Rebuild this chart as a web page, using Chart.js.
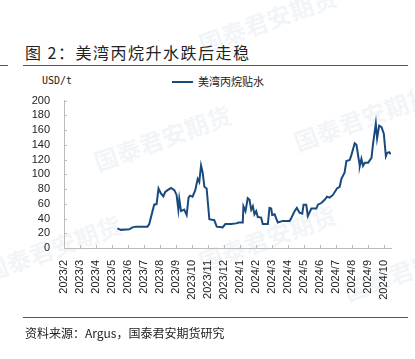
<!DOCTYPE html>
<html>
<head>
<meta charset="utf-8">
<script src="https://cdn.jsdelivr.net/npm/chart.js@4/dist/chart.umd.min.js"></script>
<style>
  body { margin: 0; width: 415px; height: 359px; background: #fff; overflow: hidden; position: relative; font-family: "Noto Sans CJK SC", sans-serif; }
  .title { position: absolute; left: 25px; top: 40px; font-size: 16px; color: #222; letter-spacing: 1.5px; white-space: nowrap; }
  .rule { position: absolute; height: 1px; background: #555; }
  .source { position: absolute; left: 25px; top: 324px; font-size: 12px; color: #222; white-space: nowrap; }
  .unit { position: absolute; left: 42px; top: 75px; font-size: 10px; color: #222; font-family: "DejaVu Sans Mono", monospace; }
  .legend { position: absolute; left: 172px; top: 73px; font-size: 11px; color: #222; white-space: nowrap; }
  .legend i { display: inline-block; width: 21px; height: 2px; background: #184a7e; vertical-align: middle; margin-right: 5px; margin-top: -2px; }
  .wm { position: absolute; color: rgba(190, 205, 222, 0.2); font-size: 24px; font-weight: bold; transform: rotate(-20deg); white-space: nowrap; }
  canvas { position: absolute; left: 0; top: 88px; }
</style>
</head>
<body>
<div class="wm" style="left:195px;top:2px;">国泰君安期货</div>
<div class="wm" style="left:90px;top:120px;">国泰君安期货</div>
<div class="wm" style="left:290px;top:100px;">国泰君安期货</div>
<div class="wm" style="left:195px;top:220px;">国泰君安期货</div>
<div class="wm" style="left:-20px;top:230px;">国泰君安期货</div>
<div class="wm" style="left:340px;top:250px;">国泰君安期货</div>
<div class="title">图 2：美湾丙烷升水跌后走稳</div>
<div class="rule" style="left:23px;top:65px;width:385px;"></div>
<div class="rule" style="left:0;top:65px;width:8px;"></div>
<div class="unit">USD/t</div>
<div class="legend"><i></i>美湾丙烷贴水</div>
<canvas id="c" width="415" height="230"></canvas>
<div class="rule" style="left:23px;top:317px;width:385px;"></div>
<div class="source">资料来源：Argus，国泰君安期货研究</div>
<script>
// x position = months since 2023/2
const monthLabels = ["2023/2","2023/3","2023/4","2023/5","2023/6","2023/7","2023/8","2023/9","2023/10","2023/11","2023/12",
  "2024/1","2024/2","2024/3","2024/4","2024/5","2024/6","2024/7","2024/8","2024/9","2024/10"];

const monthPos = [3.34,3.55,4.08,4.28,4.50,5.22,5.33,5.64,5.79,5.91,6.06,6.21,6.33,6.48,6.69,6.90,7.04,7.15,7.21,7.32,
  7.52,7.67,7.79,7.88,8.04,8.21,8.36,8.46,8.57,8.67,8.78,8.92,9.09,9.40,9.55,9.92,10.09,10.45,10.77,10.93,
  11.18,11.22,11.35,11.49,11.60,11.71,11.81,11.91,12.02,12.12,12.33,12.43,12.75,12.85,12.96,13.02,13.17,13.37,13.69,14.11,
  14.21,14.42,14.56,14.73,14.90,14.98,15.15,15.25,15.47,15.78,15.88,16.09,16.30,16.45,16.61,16.82,17.07,17.24,17.35,17.55,
  17.66,17.87,17.98,18.18,18.29,18.45,18.50,18.60,18.70,18.81,19.02,19.23,19.33,19.50,19.58,19.71,19.86,20.00,20.13,20.21,
  20.33,20.44];

const spreadVals = [26.7,24.6,25.4,28,29,29,32.5,58.8,59.6,80.7,74,70,76,78.5,81.6,78.5,72,52,66.7,50,
  52,44.7,68.4,71,69.7,78.5,93.8,89.5,112,102.6,83,80.7,39,37.8,29,28,32.5,32.5,33.4,34.6,
  34.6,56.6,50,67.5,65.4,52,56.6,45.7,50,42,41.2,32.5,32.5,54.4,53.5,44.7,45.7,34.6,36.8,36.8,
  40.4,50,54.4,47.8,46.5,58.8,58.8,43.4,53.5,53.5,58.8,61,65.4,69.7,68.4,72,80.7,83,93.8,102.6,
  118,119.4,126.7,142,140,118,111.5,121,111.5,115.8,115.8,122.4,142,169,148.7,166,164,155,124.6,129,
  130,127.6];

const yTicks = [0, 20, 40, 60, 80, 100, 120, 140, 160, 180, 200];

const points = monthPos.map((m, i) => ({ x: m, y: spreadVals[i] }));

// short tick marks pointing into the plot area
const innerTicks = {
  id: 'innerTicks',
  afterDraw: (chart) => {
    const { ctx, chartArea: { left, bottom }, scales: { x, y } } = chart;
    ctx.save();
    ctx.strokeStyle = '#bbb';
    ctx.lineWidth = 1;
    ctx.beginPath();
    x.ticks.forEach(t => {
      const px = Math.round(x.getPixelForValue(t.value)) + 0.5;
      ctx.moveTo(px, bottom);
      ctx.lineTo(px, bottom - 3);
    });
    y.ticks.forEach(t => {
      const py = Math.round(y.getPixelForValue(t.value)) + 0.5;
      ctx.moveTo(left, py);
      ctx.lineTo(left + 3, py);
    });
    ctx.stroke();
    ctx.restore();
  }
};

new Chart(document.getElementById('c'), {
  type: 'line',
  data: {
    datasets: [{
      label: '美湾丙烷贴水',
      data: points,
      borderColor: '#184a7e',
      borderWidth: 2,
      pointRadius: 0,
      tension: 0,
      fill: false
    }]
  },
  options: {
    responsive: false,
    animation: false,
    layout: { padding: { top: 8, right: 24, left: 0, bottom: 0 } },
    plugins: { legend: { display: false }, tooltip: { enabled: false } },
    scales: {
      x: {
        type: 'linear',
        min: 0,
        max: 20.45,
        afterFit: (s) => { s.height = 70; },
        afterBuildTicks: (s) => { s.ticks = monthLabels.map((_, i) => ({ value: i })); },
        ticks: {
          autoSkip: false,
          minRotation: 90,
          maxRotation: 90,
          padding: 4,
          color: '#222',
          font: { family: 'Liberation Sans', size: 11 },
          callback: (v) => monthLabels[v]
        },
        grid: { display: false },
        border: { display: true, color: '#bbb' }
      },
      y: {
        min: 0,
        max: 200,
        afterFit: (s) => { s.width = 64; },
        afterBuildTicks: (s) => { s.ticks = yTicks.map(v => ({ value: v })); },
        ticks: {
          autoSkip: false,
          padding: 6,
          color: '#222',
          font: { family: 'Liberation Sans', size: 11 }
        },
        grid: { display: false },
        border: { display: true, color: '#bbb' }
      }
    }
  },
  plugins: [innerTicks]
});
</script>
</body>
</html>
